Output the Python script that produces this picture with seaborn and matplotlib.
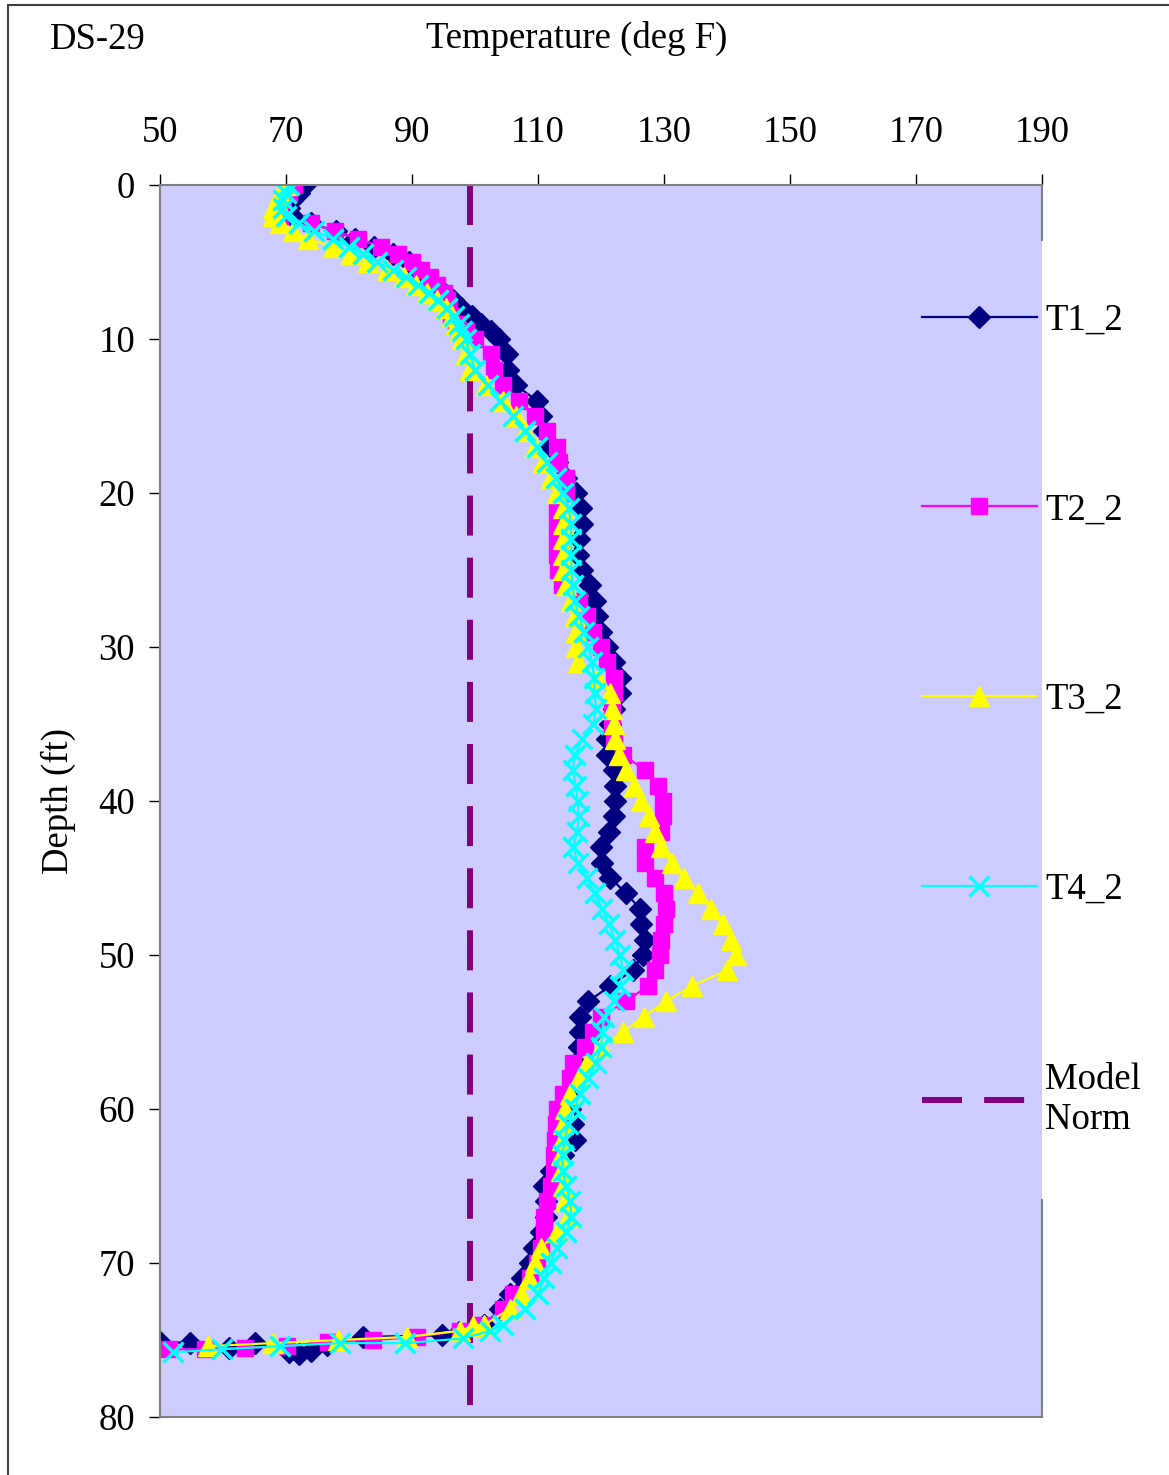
import pandas as pd
import matplotlib.pyplot as plt
import seaborn as sns
from matplotlib.patches import Rectangle

# depth of the log readings (ft)
depth_main = [0, 0.5, 1, 1.5, 2, 2.5, 3, 3.5, 4, 4.5, 5, 5.5, 6, 6.5, 7, 7.5, 8, 8.5, 9, 9.5,
              10, 11, 12, 13, 14, 15, 16, 17, 18, 19, 20, 21, 22, 23, 24, 25, 26, 27, 28, 29,
              30, 31, 32, 33, 34, 35, 36, 37, 38, 39, 40, 41, 42, 43, 44, 45, 46, 47, 48, 49,
              50, 51, 52, 53, 54, 55, 56, 57, 58, 59, 60, 61, 62, 63, 64, 65, 66, 67, 68, 69,
              70, 71, 72, 73, 74]

# temperatures (deg F)
t1_main = [73, 72, 71, 70.5, 71, 74, 78, 81, 84, 87, 89.5, 91, 92.3, 93.7, 95, 96.5, 97.8, 99.5, 101, 102.5,
           103.8, 105, 105.2, 106.5, 109.8, 110.5, 111, 112, 113, 114.5,
           116, 116.8, 117, 116.5, 116.3, 117, 118.3, 119, 119.3, 120,
           121, 122, 123, 123, 122, 121.5, 121, 121, 122, 122.3,
           122.2, 122, 121.3, 120, 120.2, 121.5, 124, 126.2, 126.4, 127,
           126.6, 125, 121.5, 118, 116.7, 116.7, 116.5, 116, 115.5, 115,
           115, 115.5, 115.8, 114, 112, 111, 111.3, 111.2, 110.5, 109.4,
           108.8, 107.5, 105.5, 104, 101.5]
t2_main = [71.3, 70.5, 69.5, 69, 69, 74, 77.8, 81.5, 85, 87.8, 90, 91.5, 92.8, 94, 95, 95.5, 95.8, 96.2, 97, 98.5,
           100, 102.5, 103, 104.5, 107, 109.5, 111.5, 113, 113.3, 114.5,
           114.5, 113, 113, 113, 113, 113.2, 113.8, 116.5, 117.8, 118.7,
           120, 121, 122, 122, 121.8, 121.7, 122, 123.5, 127, 129,
           129.8, 129.8, 129.5, 127, 127, 128.5, 130, 130.3, 130, 129.5,
           129.3, 128.5, 127.5, 124, 120, 118.8, 117.5, 115.5, 115, 114,
           113, 112.8, 112.7, 112.6, 112.5, 112, 111.5, 111, 111, 110.5,
           109.8, 108.8, 106, 104.5, 101]
t3_main = [70, 69, 68.5, 68, 68, 69, 71.1, 73.5, 77.5, 80.3, 83, 86, 88.7, 90.7, 92.4, 94, 95.4, 96.3, 97, 97.6,
           98, 98.5, 99.2, 101.8, 104.5, 106.5, 108, 109.5, 110.8, 112,
           113, 114, 114, 114, 114, 114, 114.5, 115.2, 115.8, 116,
           116, 116.3, 119.5, 121.5, 121.7, 122, 122.3, 122.8, 124, 125.2,
           126.3, 127.6, 128.6, 129.5, 131.3, 133.2, 135.4, 137.4, 139.3, 140.6,
           141.5, 140, 134.5, 130.3, 126.8, 123.5, 120, 117.8, 116.5, 115,
           114.3, 114, 113.8, 113.6, 113.6, 114, 114.3, 114.7, 113, 110.5,
           109.5, 108.5, 107.3, 105.5, 101.5]
t4_main = [70.5, 70, 69.5, 69.5, 70, 72, 74.5, 77.5, 80, 82.3, 84.5, 87, 89, 91, 92.7, 94.2, 95.5, 96.7, 97.5, 98,
           98.5, 99.2, 100, 102, 104, 106, 108, 109.8, 111.4, 112.8,
           114, 114.9, 115.2, 115.3, 115.3, 115.3, 115.5, 115.8, 116.5, 117.3,
           118, 118.6, 118.9, 119, 119.2, 118.8, 117, 115.9, 115.5, 116,
           116.3, 116.5, 116.2, 115.6, 116.3, 117.8, 119, 120.2, 121.3, 122.2,
           123, 123.5, 123, 122, 120.5, 120.2, 120, 119.2, 118, 116.7,
           115.8, 114.8, 114.2, 113.9, 113.9, 114.5, 115.1, 115.3, 114.5, 113,
           112, 111, 110, 108, 104.5]

# readings at the bottom, when the probe left the hole
t1_tail_depth = [74.5, 74.7, 74.8, 75.3, 75.7, 75.9, 75.8, 75.2, 75.5, 75.2, 75.1]
t1_tail_temp = [97.5, 94.7, 82.2, 76.5, 74, 72, 70.5, 65, 61, 54.8, 50]
t2_tail_depth = [74.4, 74.8, 75.0, 75.1, 75.4, 75.5, 75.6, 75.6]
t2_tail_temp = [97.6, 90.8, 83.8, 76.7, 70.2, 63.5, 57.1, 51.5]
t3_tail_depth = [74.1, 74.4, 74.8, 75.0, 75.2, 75.4]
t3_tail_temp = [99.7, 97.6, 89.2, 78.3, 68, 57.6]
t4_tail_depth = [74.4, 74.9, 75.2, 75.2, 75.4, 75.6, 75.8]
t4_tail_temp = [102.4, 98.1, 88.9, 78.6, 69, 59.8, 52.1]

norm_depth = [0, 80]
norm_temp = [99.2, 99.2]

x_ticks = [50, 70, 90, 110, 130, 150, 170, 190]
y_ticks = [0, 10, 20, 30, 40, 50, 60, 70, 80]

plt.rcParams['font.family'] = ['Liberation Serif', 'DejaVu Serif']
FS = 26.5

fig = plt.figure(figsize=(11.69, 14.75), dpi=100)
ax = fig.add_axes([160 / 1169, 1 - 1417 / 1475, 882 / 1169, 1232 / 1475])
ax.set_facecolor('#CCCCFF')

# Model Norm goes behind the logs
sns.lineplot(x=norm_temp, y=norm_depth, sort=False, estimator=None, color='#800080',
             lw=4.3, linestyle=(0, (6.7, 3.7)), label='Model\nNorm', ax=ax)

series = [
    ('T1_2', t1_main + t1_tail_temp, depth_main + t1_tail_depth, '#000080', 'D', 11.5, 1),
    ('T2_2', t2_main + t2_tail_temp, depth_main + t2_tail_depth, '#FF00FF', 's', 12, 1),
    ('T3_2', t3_main + t3_tail_temp, depth_main + t3_tail_depth, '#FFFF00', '^', 14.5, 1),
    ('T4_2', t4_main + t4_tail_temp, depth_main + t4_tail_depth, '#00FFFF', 'x', 14, 2.5),
]
for name, temps, depths, col, mk, size, mew in series:
    df = pd.DataFrame({'temp': temps, 'depth': depths})
    sns.lineplot(data=df, x='temp', y='depth', sort=False, estimator=None, color=col,
                 lw=1.6, marker=mk, ms=size, mec=col, mfc=col, mew=mew, label=name, ax=ax)

ax.set_xlim(50, 190)
ax.set_ylim(80, 0)
ax.set_xticks(x_ticks)
ax.set_yticks(y_ticks)
ax.xaxis.tick_top()
ax.tick_params(axis='x', top=True, bottom=False, length=8, width=1, pad=17.5, labelsize=FS)
ax.tick_params(axis='y', left=True, right=False, length=8, width=1, pad=10, labelsize=FS)

for side in ['top', 'left', 'bottom', 'right']:
    ax.spines[side].set_color('#808080')
    ax.spines[side].set_linewidth(1.5)
# the legend hides the middle of the right edge
ax.spines['right'].set_bounds(65.9, 80)
ax.axvline(190, ymin=1 - 3.6 / 80, ymax=1, color='#808080', lw=1.5, clip_on=False)

ax.set_xlabel('Temperature (deg F)', fontsize=FS)
ax.xaxis.set_label_position('top')
ax.xaxis.set_label_coords(0.472, 1.119)
ax.xaxis.label.set_va('center')
ax.set_ylabel('Depth (ft)', fontsize=FS)
ax.yaxis.set_label_coords(-0.1156, 0.5)
ax.yaxis.label.set_va('center')

fig.text(50 / 1169, 1 - 40 / 1475, 'DS-29', fontsize=FS, ha='left', va='center')

handles, labels = ax.get_legend_handles_labels()
order = [1, 2, 3, 4, 0]
ax.legend([handles[i] for i in order], [labels[i] for i in order],
          loc='upper left', bbox_to_anchor=(922 / 1169, 1 - 303 / 1475),
          bbox_transform=fig.transFigure, frameon=False, fontsize=FS,
          handlelength=3.12, handletextpad=0.22, labelspacing=4.22,
          borderpad=0, borderaxespad=0, numpoints=1)

# outer chart border (cut off at right and bottom)
fig.patches.append(Rectangle((8 / 1169, -0.05), 2, 1.05 - 5 / 1475, transform=fig.transFigure,
                             fill=False, ec='#404040', lw=1.5))

fig.savefig('out.png', dpi=100)
